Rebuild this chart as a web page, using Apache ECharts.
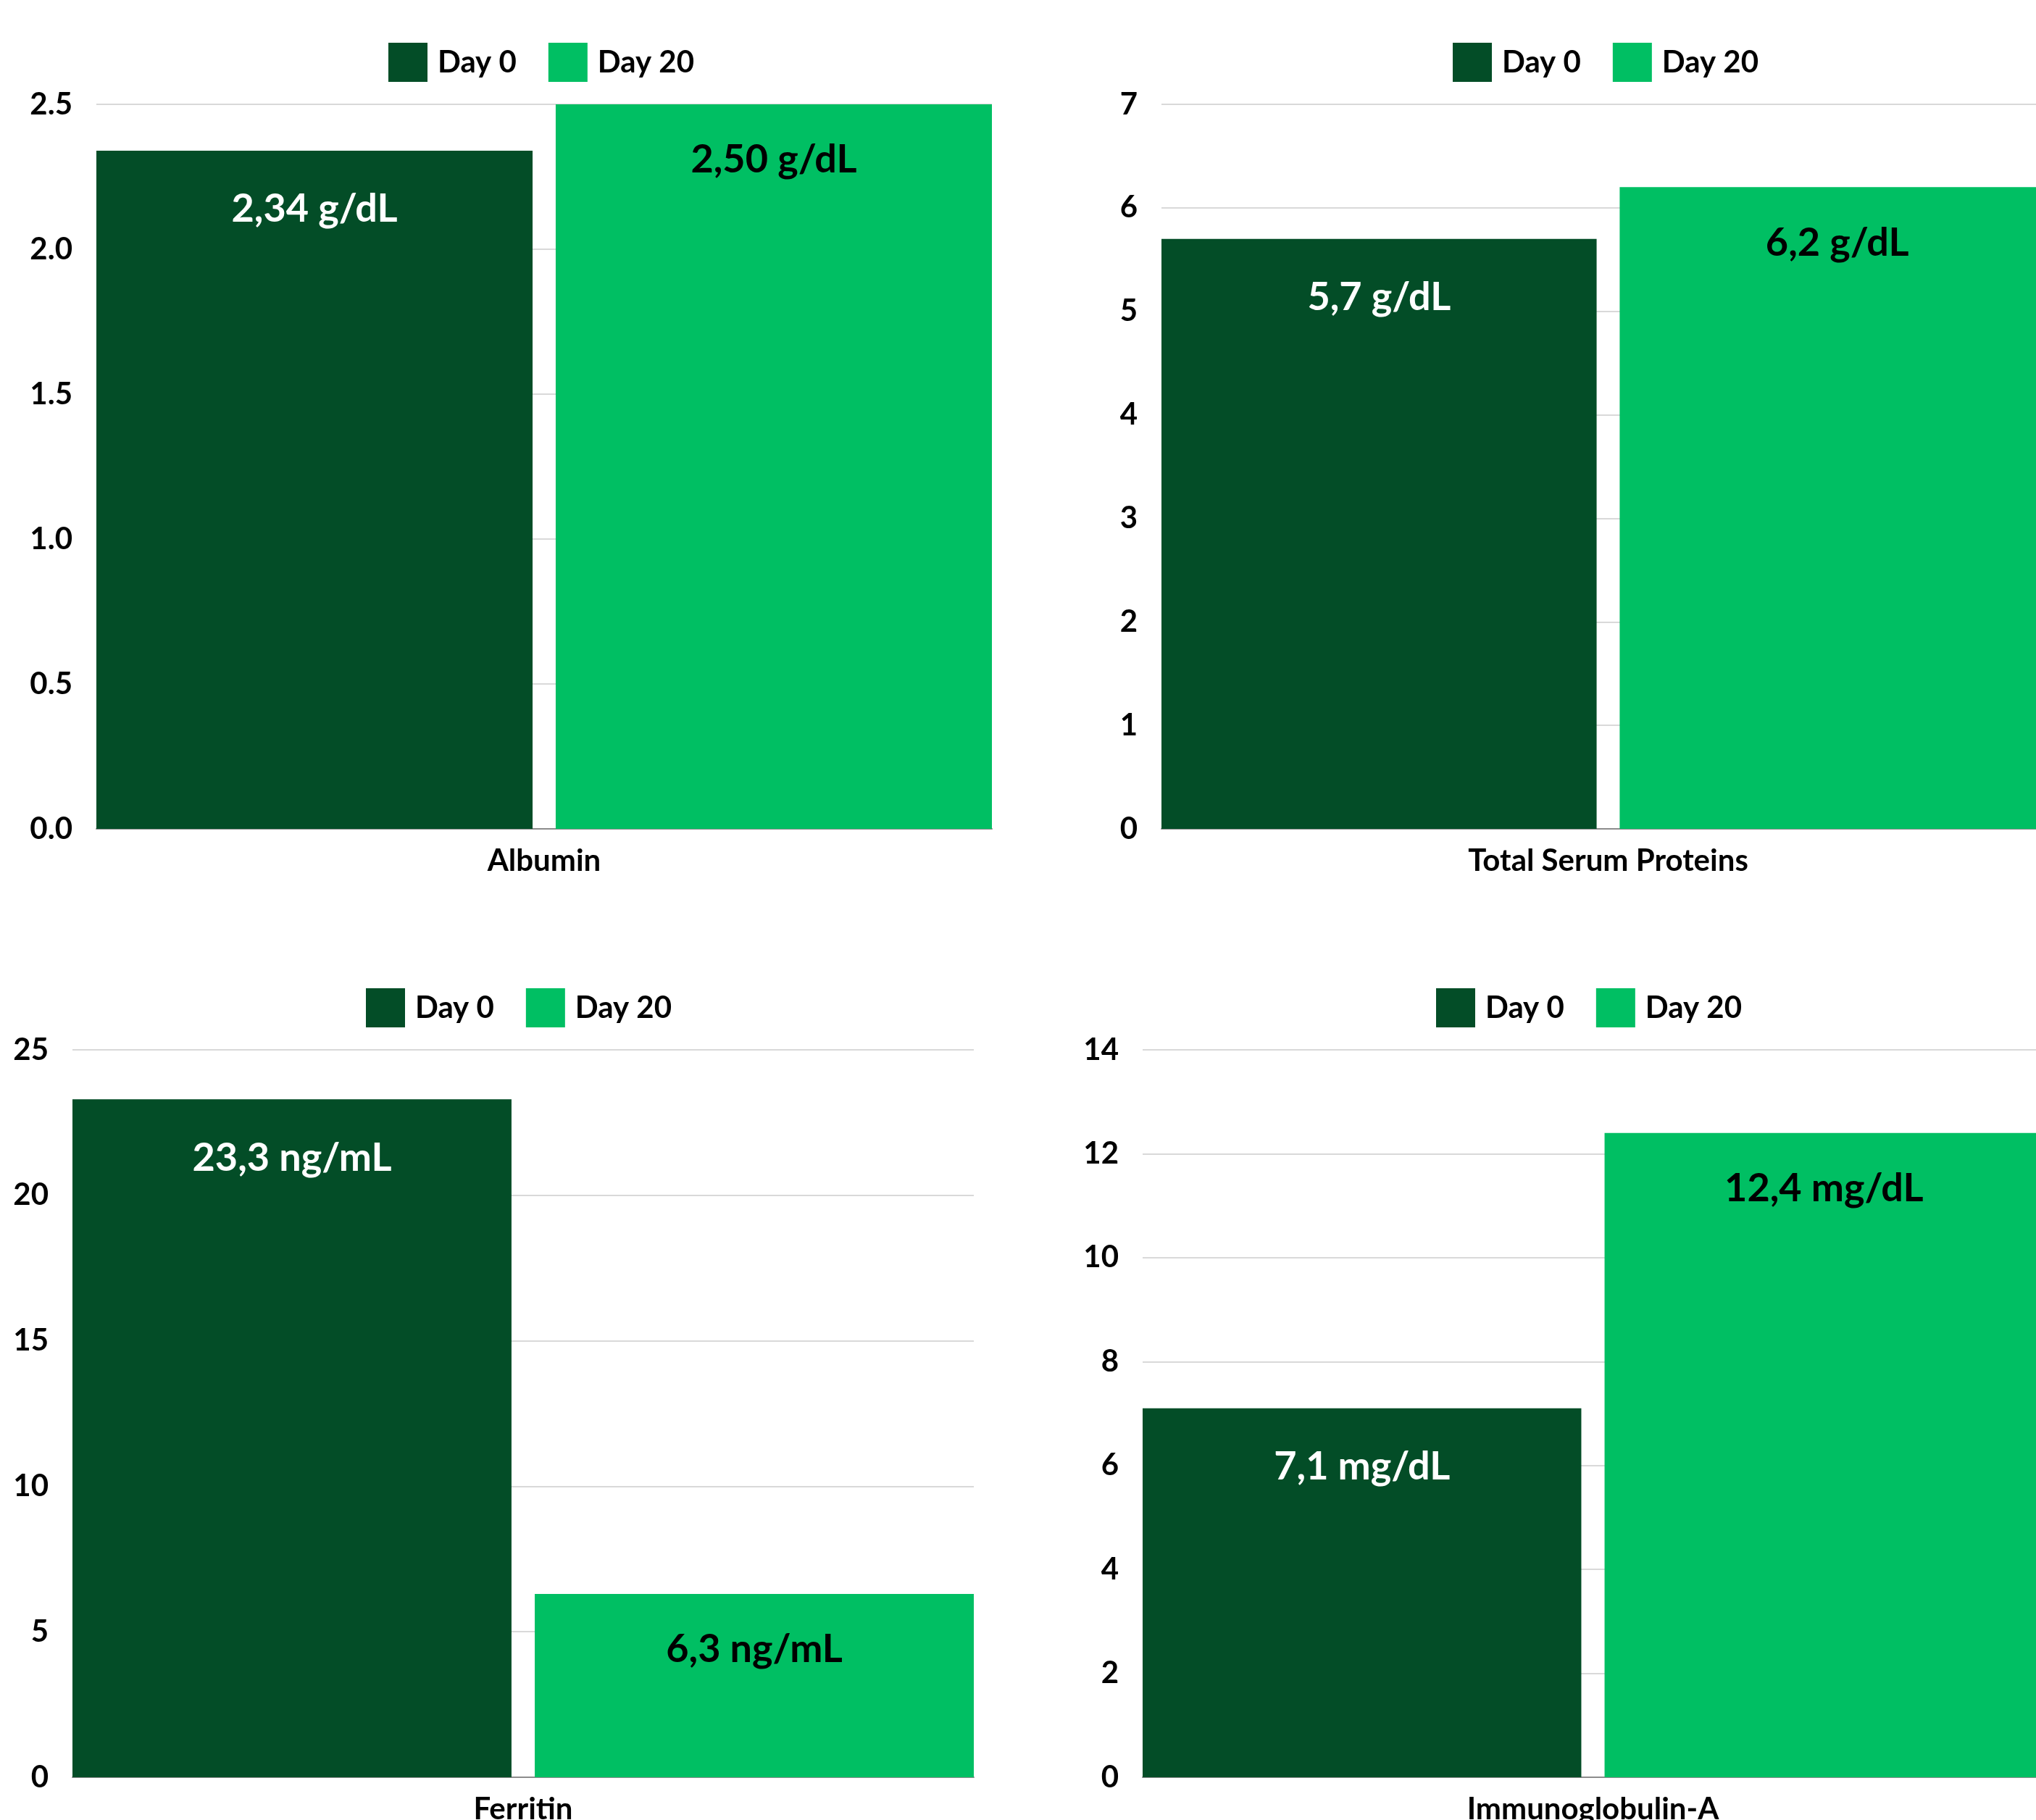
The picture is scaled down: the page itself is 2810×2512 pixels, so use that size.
<!DOCTYPE html>
<html>
<head>
<meta charset="utf-8">
<script src="https://cdn.jsdelivr.net/npm/echarts@6/dist/echarts.min.js"></script>
<style>html,body{margin:0;padding:0;background:#fff}#c{width:2810px;height:2512px}</style>
</head>
<body>
<div id="c"></div>
<script>
// ---- data ----
const categories = ['Albumin', 'Total Serum Proteins', 'Ferritin', 'Immunoglobulin-A'];
const seriesNames = ['Day 0', 'Day 20'];
const day0Values = [2.34, 5.7, 23.3, 7.1];
const day20Values = [2.50, 6.2, 6.3, 12.4];
const units = ['g/dL', 'g/dL', 'ng/mL', 'mg/dL'];
const decimals = [2, 1, 1, 1];
const yMax = [2.5, 7, 25, 14];
const yInterval = [0.5, 1, 5, 2];
const yLabelDecimals = [1, 0, 0, 0];

// ---- layout ----
const grids = [
  {left: 133, top: 144, width: 1236, height: 1000, outerBoundsMode: 'none'},
  {left: 1603, top: 144, width: 1233, height: 1000, outerBoundsMode: 'none'},
  {left: 100, top: 1449, width: 1244, height: 1004, outerBoundsMode: 'none'},
  {left: 1577, top: 1449, width: 1243, height: 1004, outerBoundsMode: 'none'}
];
const legendPos = [
  {left: 536, top: 59},
  {left: 2005, top: 59},
  {left: 505, top: 1364},
  {left: 1982, top: 1364}
];
const colors = ['#034D27', '#00BF63'];
const labelColors = ['#ffffff', '#000000'];
const FONT = 'Lato';

const option = {
  backgroundColor: '#ffffff',
  animation: false,
  legend: legendPos.map(p => ({
    left: p.left, top: p.top, padding: 0,
    data: seriesNames,
    itemWidth: 54, itemHeight: 54, itemGap: 44,
    icon: 'rect',
    textStyle: {fontFamily: FONT, fontWeight: 'bold', fontSize: 42, color: '#000', padding: [0, 0, 0, 9]}
  })),
  grid: grids,
  xAxis: categories.map((c, i) => ({
    type: 'category', gridIndex: i, data: [c],
    axisTick: {show: false},
    axisLine: {show: true, lineStyle: {color: '#8c8c8c', width: 2}},
    axisLabel: {fontFamily: FONT, fontWeight: 'bold', fontSize: 42, color: '#000', margin: 23}
  })),
  yAxis: categories.map((c, i) => ({
    type: 'value', gridIndex: i, min: 0, max: yMax[i], interval: yInterval[i],
    axisLine: {show: false}, axisTick: {show: false},
    splitLine: {lineStyle: {color: '#d9d9d9', width: 2}},
    axisLabel: {fontFamily: FONT, fontWeight: 'bold', fontSize: 42, color: '#000', margin: 33,
      formatter: v => v.toFixed(yLabelDecimals[i])}
  })),
  series: []
};

categories.forEach((c, i) => {
  [day0Values, day20Values].forEach((vals, s) => {
    option.series.push({
      type: 'bar', name: seriesNames[s],
      xAxisIndex: i, yAxisIndex: i,
      data: [vals[i]],
      barCategoryGap: '0%', barGap: '5.3%',
      itemStyle: {color: colors[s]},
      label: {
        show: true, position: 'insideTop', distance: s === 0 ? 54 : 50,
        fontFamily: FONT, fontWeight: 'bold', fontSize: 54, color: labelColors[s],
        formatter: p => p.value.toFixed(decimals[i]).replace('.', ',') + ' ' + units[i]
      }
    });
  });
});

const chart = echarts.init(document.getElementById('c'), null, {renderer: 'canvas'});
chart.setOption(option);
</script>
</body>
</html>
